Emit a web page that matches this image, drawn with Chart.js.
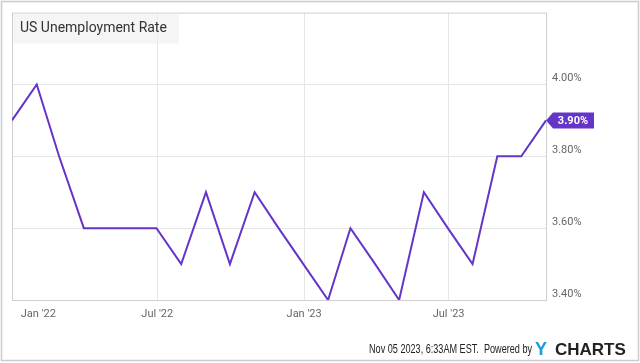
<!DOCTYPE html>
<html>
<head>
<meta charset="utf-8">
<script src="https://cdn.jsdelivr.net/npm/chart.js@4.4.0/dist/chart.umd.min.js"></script>
<style>
  html, body { margin: 0; padding: 0; background: #fff; }
  #wrap { width: 640px; height: 363px; position: relative; }
</style>
</head>
<body>
<div id="wrap"><canvas id="grafico" width="640" height="363"></canvas></div>
<script>
// monthly data, plotted at month end (like ycharts does)
const meses = ['2021-12', '2022-01', '2022-02', '2022-03', '2022-04', '2022-05', '2022-06',
  '2022-07', '2022-08', '2022-09', '2022-10', '2022-11', '2022-12', '2023-01', '2023-02',
  '2023-03', '2023-04', '2023-05', '2023-06', '2023-07', '2023-08', '2023-09', '2023-10'];
const taxa = [3.9, 4.0, 3.8, 3.6, 3.6, 3.6, 3.6, 3.5, 3.7, 3.5, 3.7, 3.6, 3.5, 3.4, 3.6,
  3.5, 3.4, 3.7, 3.6, 3.5, 3.8, 3.8, 3.9];

const xTickDatas = ['2022-01-01', '2022-07-01', '2023-01-01', '2023-07-01'];
const xTickLabels = ["Jan '22", "Jul '22", "Jan '23", "Jul '23"];
const yTicks = [3.4, 3.6, 3.8, 4.0];

const titulo = 'US Unemployment Rate';
const rodape = 'Nov 05 2023, 6:33AM EST.  Powered by';
const roxo = '#6534c9';

const DIA = 86400000;
const origem = Date.UTC(2022, 0, 1);

function fimDoMes(m) {
  const [a, mm] = m.split('-').map(Number);
  return (Date.UTC(a, mm, 0) - origem) / DIA;
}
function diaDe(s) {
  const [a, mm, d] = s.split('-').map(Number);
  return (Date.UTC(a, mm - 1, d) - origem) / DIA;
}

const pontos = meses.map((m, i) => ({ x: fimDoMes(m), y: taxa[i] }));
// first label is pushed right so it is not cut by the border
const xTicks = xTickDatas.map((d, i) => i === 0 ? diaDe(d) + 32 : diaDe(d));

const extras = {
  id: 'extras',
  beforeDatasetsDraw(chart) {
    const { ctx, chartArea: a } = chart;
    ctx.save();
    ctx.strokeStyle = '#cfcfcf';
    ctx.lineWidth = 1;
    ctx.strokeRect(a.left + 0.5, a.top + 0.5, a.right - a.left, a.bottom - a.top);
    ctx.restore();
  },
  afterDraw(chart) {
    const { ctx, chartArea: a } = chart;
    ctx.save();

    // outer frame
    ctx.strokeStyle = '#cccccc';
    ctx.lineWidth = 1.5;
    ctx.strokeRect(1.5, 1.5, 637, 359);

    // title box
    ctx.fillStyle = 'rgba(238,238,238,0.6)';
    ctx.fillRect(a.left + 1, a.top + 1, 166, 30);
    ctx.fillStyle = '#333';
    ctx.font = '14px Roboto';
    ctx.textBaseline = 'middle';
    ctx.textAlign = 'left';
    ctx.fillText(titulo, 20, 28);

    // last value badge
    const meta = chart.getDatasetMeta(0);
    const ult = meta.data[meta.data.length - 1];
    const px = ult.x, py = ult.y;
    ctx.fillStyle = roxo;
    ctx.beginPath();
    ctx.moveTo(px, py);
    ctx.lineTo(px + 7, py - 8);
    ctx.lineTo(px + 48, py - 8);
    ctx.lineTo(px + 48, py + 8);
    ctx.lineTo(px + 7, py + 8);
    ctx.closePath();
    ctx.fill();
    ctx.fillStyle = '#fff';
    ctx.font = 'bold 11px Roboto';
    ctx.textAlign = 'center';
    ctx.fillText(taxa[taxa.length - 1].toFixed(2) + '%', px + 27, py + 0.5);

    // footer
    ctx.textBaseline = 'alphabetic';
    ctx.textAlign = 'right';
    ctx.fillStyle = '#222';
    ctx.font = '12px "Liberation Sans", Arial';
    ctx.fillText(rodape, 532, 353, 163);
    ctx.textAlign = 'left';
    ctx.font = 'bold 18px "Liberation Sans", Arial';
    ctx.fillStyle = '#1b9ad6';
    ctx.fillText('Y', 535, 355);
    ctx.fillStyle = '#222';
    ctx.font = 'bold 17px "Liberation Sans", Arial';
    ctx.fillText('CHARTS', 555, 355, 72);

    ctx.restore();
  }
};

const ctx = document.getElementById('grafico').getContext('2d');
const grafico = new Chart(ctx, {
  type: 'line',
  data: {
    datasets: [{
      label: titulo,
      data: pontos,
      borderColor: roxo,
      borderWidth: 2,
      pointRadius: 0,
      tension: 0,
      fill: false
    }]
  },
  options: {
    responsive: false,
    animation: false,
    devicePixelRatio: 1,
    layout: { padding: { left: 12, top: 12, right: 0, bottom: 0 } },
    plugins: { legend: { display: false }, tooltip: { enabled: false } },
    scales: {
      x: {
        type: 'linear',
        min: fimDoMes('2021-12'),
        max: fimDoMes('2023-10'),
        afterBuildTicks: s => { s.ticks = xTicks.map(v => ({ value: v })); },
        afterFit: s => { s.height = 63; },
        border: { display: false },
        grid: {
          color: c => c.index === 0 ? 'rgba(0,0,0,0)' : '#e6e6e6',
          drawTicks: false
        },
        ticks: {
          autoSkip: false,
          maxRotation: 0,
          padding: 8,
          color: '#666',
          font: { family: 'Roboto', size: 11 },
          callback: (v, i) => xTickLabels[i]
        }
      },
      y: {
        position: 'right',
        min: 3.4,
        max: 4.2,
        afterBuildTicks: s => { s.ticks = yTicks.map(v => ({ value: v })); },
        afterFit: s => { s.width = 94; },
        border: { display: false },
        grid: { color: '#e6e6e6', drawTicks: false },
        ticks: {
          padding: 6,
          labelOffset: -6,
          color: '#666',
          font: { family: 'Roboto', size: 11 },
          callback: v => v.toFixed(2) + '%'
        }
      }
    }
  },
  plugins: [extras]
});
</script>
</body>
</html>
